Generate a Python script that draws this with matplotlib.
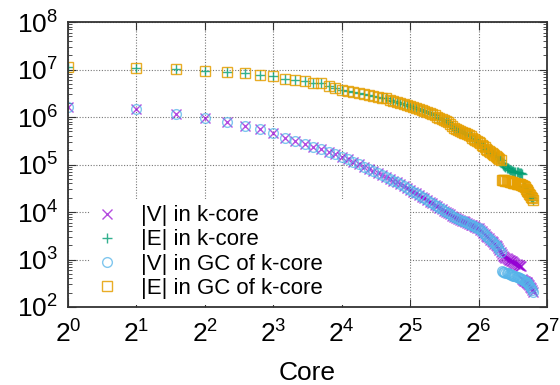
import numpy as np
import matplotlib
matplotlib.use("Agg")
import matplotlib.pyplot as plt
from matplotlib.ticker import LogLocator, NullLocator, NullFormatter

plt.rcParams['font.family'] = ['Liberation Sans', 'DejaVu Sans']
plt.rcParams['mathtext.fontset'] = 'custom'
plt.rcParams['mathtext.rm'] = 'Liberation Sans'
plt.rcParams['mathtext.it'] = 'Liberation Sans:italic'

# core numbers 1..111
core = np.arange(1, 112)

# |V| in k-core, k = 1..80 (same as giant component there)
v_main = [1.65e6, 1.47e6, 1.16e6, 9.7e5, 7.7e5, 6.5e5, 5.5e5, 4.5e5, 3.55e5, 3.1e5,
          2.7e5, 2.37e5, 2.1e5, 1.87e5, 1.66e5, 1.46e5, 1.29e5, 1.14e5, 1.01e5, 8.9e4,
          8.07e4, 7.33e4, 6.65e4, 6.04e4, 5.5e4, 5.02e4, 4.58e4, 4.18e4, 3.81e4, 3.48e4,
          3.18e4, 2.9e4, 2.67e4, 2.47e4, 2.28e4, 2.1e4, 1.94e4, 1.79e4, 1.65e4, 1.53e4,
          1.43e4, 1.33e4, 1.24e4, 1.15e4, 1.07e4, 1.0e4, 9.4e3, 8.9e3, 8.4e3, 7.9e3,
          7.4e3, 7.13e3, 6.86e3, 6.6e3, 6.35e3, 6.1e3, 5.88e3, 5.66e3, 5.45e3, 5.24e3,
          5.05e3, 4.86e3, 4.67e3, 4.5e3, 4.2e3, 3.92e3, 3.66e3, 3.42e3, 3.19e3, 2.98e3,
          2.78e3, 2.6e3, 2.44e3, 2.29e3, 2.15e3, 2.02e3, 1.9e3, 1.75e3, 1.6e3, 1.45e3]
# |V| in k-core where it splits from the GC, k = 81..98
v_kcore_split = [1.3e3, 1.2e3, 1.15e3, 1.1e3, 1.07e3, 1.04e3, 1.0e3, 9.7e2, 9.4e2,
                 9.1e2, 8.8e2, 8.5e2, 8.2e2, 8.0e2, 7.8e2, 7.6e2, 7.4e2, 7.2e2]
# |V| in GC of k-core, k = 81..111
v_gc_tail = [5.6e2, 5.5e2, 5.4e2, 5.3e2, 5.2e2, 5.1e2, 5.0e2, 4.9e2, 4.8e2, 4.7e2,
             4.6e2, 4.5e2, 4.4e2, 4.3e2, 4.2e2, 4.1e2, 4.0e2, 3.9e2, 3.8e2, 3.7e2,
             3.6e2, 3.5e2, 3.4e2, 3.3e2, 3.2e2, 3.1e2, 2.9e2, 2.7e2, 2.5e2, 2.3e2, 2.1e2]

# |E| in k-core, k = 1..80
e_main = [1.15e7, 1.06e7, 1.01e7, 9.4e6, 9.0e6, 8.6e6, 7.8e6, 7.3e6, 6.3e6, 6.0e6,
          5.6e6, 5.3e6, 5.1e6, 4.5e6, 4.1e6, 3.7e6, 3.52e6, 3.36e6, 3.2e6, 3.05e6,
          2.92e6, 2.8e6, 2.68e6, 2.57e6, 2.46e6, 2.33e6, 2.21e6, 2.1e6, 1.99e6, 1.89e6,
          1.79e6, 1.7e6, 1.62e6, 1.54e6, 1.46e6, 1.39e6, 1.32e6, 1.26e6, 1.2e6, 1.14e6,
          1.08e6, 1.02e6, 9.7e5, 9.2e5, 8.75e5, 8.3e5, 7.7e5, 7.1e5, 6.5e5, 6.0e5,
          5.5e5, 5.3e5, 5.1e5, 4.9e5, 4.7e5, 4.5e5, 4.3e5, 4.1e5, 3.9e5, 3.7e5,
          3.5e5, 3.3e5, 3.15e5, 3.0e5, 2.81e5, 2.63e5, 2.47e5, 2.32e5, 2.17e5, 2.04e5,
          1.91e5, 1.8e5, 1.72e5, 1.64e5, 1.56e5, 1.49e5, 1.42e5, 1.36e5, 1.3e5, 1.25e5]
# |E| in k-core where it splits from the GC, k = 81..99
e_kcore_split = [1.05e5, 1.0e5, 9.5e4, 9.0e4, 8.6e4, 8.3e4, 8.0e4, 7.8e4, 7.6e4, 7.4e4,
                 7.2e4, 7.1e4, 7.0e4, 6.9e4, 6.8e4, 6.7e4, 6.6e4, 6.5e4, 6.4e4]
# |E| in GC of k-core, k = 81..111
e_gc_tail = [4.8e4, 4.7e4, 4.65e4, 4.6e4, 4.5e4, 4.45e4, 4.4e4, 4.3e4, 4.25e4, 4.2e4,
             4.15e4, 4.1e4, 4.0e4, 3.95e4, 3.9e4, 3.85e4, 3.8e4, 3.7e4, 3.65e4, 3.6e4,
             3.45e4, 3.3e4, 3.1e4, 2.95e4, 2.8e4, 2.6e4, 2.45e4, 2.3e4, 2.1e4, 1.95e4, 1.8e4]

v_kcore = v_main + v_kcore_split + v_gc_tail[len(v_kcore_split):]
v_gc = v_main + v_gc_tail
e_kcore = e_main + e_kcore_split + e_gc_tail[len(e_kcore_split):]
e_gc = e_main + e_gc_tail

fig = plt.figure(figsize=(5.6, 3.85), dpi=100)
ax = fig.add_axes([68 / 560, 1 - 307 / 385, 479 / 560, 285 / 385])

ax.plot(core, v_kcore, ls='none', marker='x', ms=6.5, mew=1.0, color='#9400d3',
        alpha=0.7, label='|V| in k-core')
ax.plot(core, e_kcore, ls='none', marker='+', ms=7.5, mew=1.0, color='#009e73',
        alpha=0.8, label='|E| in k-core')
ax.plot(core, v_gc, ls='none', marker='o', ms=7, mew=1.0, mfc='none', color='#56b4e9',
        alpha=0.75, label='|V| in GC of k-core')
ax.plot(core, e_gc, ls='none', marker='s', ms=7, mew=1.0, mfc='none', color='#e69f00',
        alpha=0.85, label='|E| in GC of k-core')

ax.set_xscale('log', base=2)
ax.set_yscale('log')
ax.set_xlim(1, 128)
ax.set_ylim(1e2, 1e8)
ax.xaxis.set_major_locator(LogLocator(base=2, numticks=10))
ax.xaxis.set_minor_locator(NullLocator())
ax.yaxis.set_major_locator(LogLocator(base=10, numticks=10))
ax.yaxis.set_minor_locator(LogLocator(base=10, subs=np.arange(2, 10), numticks=20))
ax.yaxis.set_minor_formatter(NullFormatter())

ax.grid(True, which='major', ls=(0, (1, 1.5)), color='#777777', lw=0.8)
ax.tick_params(which='both', direction='in', top=True, right=True, color='#333333')
ax.tick_params(which='major', length=6, width=0.8, labelsize=19, pad=7)
ax.tick_params(which='minor', length=3, width=0.6)
ax.tick_params(axis='x', pad=10)
for s in ax.spines.values():
    s.set_linewidth(1.3)
    s.set_color('#333333')

ax.set_xlabel('Core', fontsize=19, labelpad=9)

leg = ax.legend(loc='lower left', bbox_to_anchor=(0.045, 0.006, 0.67, 0.36), mode='expand',
                fontsize=16, frameon=True, framealpha=1, edgecolor='none', facecolor='white',
                fancybox=False, borderpad=0.3, labelspacing=0.14, handlelength=1.0,
                handletextpad=1.0, borderaxespad=0)

fig.savefig('out.png', dpi=100)
